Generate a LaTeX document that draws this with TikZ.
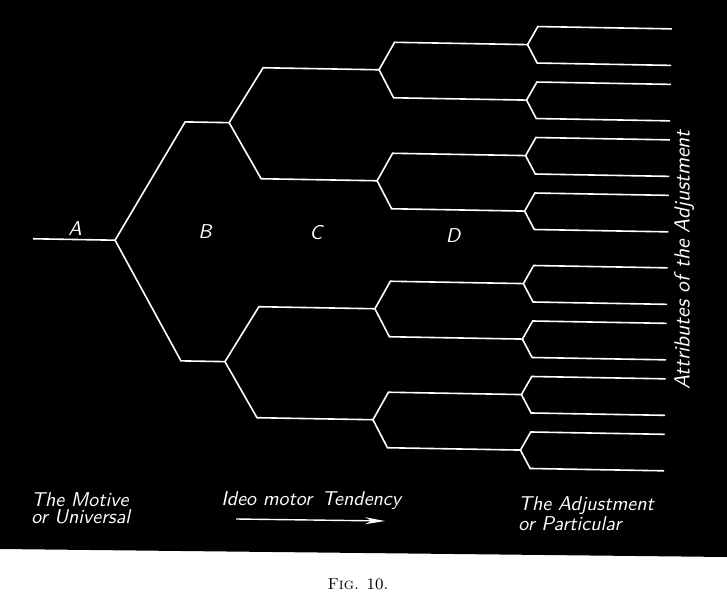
\documentclass[tikz,border=0pt]{standalone}
\usepackage{fontspec}
\usetikzlibrary{arrows.meta,positioning}

\begin{document}
\begin{tikzpicture}[
  x=0.5pt, y=-0.5pt,
  branch/.style={draw=white,line width=0.8pt},
  lbl/.style={text=white,inner sep=0pt,font=\sffamily\itshape\fontsize{10}{8.5}\selectfont},
  arr/.style={-{Stealth[length=10pt,width=3.5pt]},white,line width=0.7pt},
  level 1/.style={level distance=56pt,sibling distance=119.5pt,
    edge from parent path={(\tikzparentnode) -- ([xshift=-22pt]\tikzchildnode) -- (\tikzchildnode)}},
  level 2/.style={level distance=74.5pt,sibling distance=55.5pt,
    edge from parent path={(\tikzparentnode) -- ([xshift=-58pt]\tikzchildnode) -- (\tikzchildnode)}},
  level 3/.style={level distance=74pt,sibling distance=27.75pt,
    edge from parent path={(\tikzparentnode) -- ([xshift=-66.5pt]\tikzchildnode) -- (\tikzchildnode)}},
  level 4/.style={level distance=72pt,sibling distance=18.25pt,
    edge from parent path={(\tikzparentnode) -- ([xshift=-67pt]\tikzchildnode) -- (\tikzchildnode)}}
]
% plate
\path[use as bounding box,fill=white] (0,0) rectangle (727,604);
\fill[black] (0,0) -- (727,0) -- (727,557) -- (0,549) -- cycle;

% the branching, slightly tilted as on the plate
\begin{scope}[rotate around={-1:(390,245)},grow=right,edge from parent/.style={branch}]
\coordinate (start) at (33,245);
\node[coordinate] (A) at (115,245) {}
  child foreach \p in {1,2} {coordinate
    child foreach \q in {1,2} {coordinate
      child foreach \r in {1,2} {coordinate
        child foreach \s in {1,2} {coordinate}}}};
\draw[branch] (start) -- (A);
\end{scope}

\node[lbl] (la) at (75,229) {A};
\node[lbl] (lb) at (205,232) {B};
\node[lbl] (lc) at (316,233) {C};
\node[lbl] (ld) at (453,236) {D};

\node[lbl,rotate=90,font=\sffamily\itshape\fontsize{11}{11}\selectfont] (attr) at (684,260) {Attributes of the Adjustment};

\node[lbl,anchor=west,align=left] (motive) at (31,508) {The Motive\\or Universal};
\node[lbl,anchor=west] (tend) at (221,501) {Ideo motor\hspace{5pt}Tendency};
\coordinate (tS) at (236,519);
\coordinate (tE) at (385,521);
\draw[arr] (tS) -- (tE);
\node[lbl,anchor=west,align=left] (adjust) at (518,514) {The Adjustment\\or Particular};

\node[font=\fontsize{8}{9}\selectfont] (fig) at (358,584) {\textsc{Fig.} 10.};
\end{tikzpicture}
\end{document}
